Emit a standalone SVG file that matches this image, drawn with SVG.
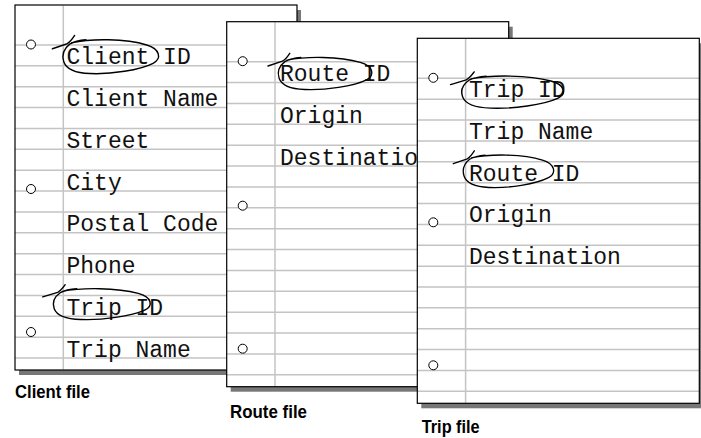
<svg xmlns="http://www.w3.org/2000/svg" xmlns:xlink="http://www.w3.org/1999/xlink" width="701" height="438" viewBox="0 0 701 438">
<style>
.shadow{fill:#777777}
.sheet{fill:#ffffff}
.edge{fill:none;stroke:#000;stroke-width:1.2}
.rule{stroke:#c4c4c4;stroke-width:1.5;fill:none}
.hole{fill:#fff;stroke:#000;stroke-width:1}
.field{font-family:"Liberation Mono","DejaVu Sans Mono",monospace;font-size:23px;fill:#111}
.mark{fill:none;stroke:#000;stroke-width:1.4;stroke-linecap:round;stroke-linejoin:round}
.label{font-family:"Liberation Sans Narrow","Liberation Sans",Arial,sans-serif;font-weight:bold;font-size:18px;fill:#000}
</style>
<defs>
<g id="page">
<rect class="shadow" x="4" y="5" width="282" height="365"/>
<rect class="sheet" x="0" y="0" width="282" height="365"/>
<path class="rule" d="M0,40H282M0,60.87H282M0,81.74H282M0,102.61H282M0,123.48H282M0,144.35H282M0,165.22H282M0,186.09H282M0,206.96H282M0,227.83H282M0,248.7H282M0,269.57H282M0,290.44H282M0,311.31H282M0,332.18H282M0,353.05H282M48.3,0.6V364.4"/>
<rect class="edge" x="0" y="0" width="282" height="365"/>
<circle class="hole" cx="16" cy="39.5" r="4.5"/>
<circle class="hole" cx="16" cy="184" r="4.5"/>
<circle class="hole" cx="16" cy="327" r="4.5"/>
</g>
<path id="loop" class="mark" d="M-9,9.5L6,4.6Q9.5,2.5 13.5,-3.5M10.5,3.6C30,-0.5 65,-0.5 86.5,5.8C100,9.5 102,19 93,23.6C80,30 50,34.5 29,33.5C15,33 5,29 2.5,22C0.5,16 2.5,9.5 8.5,5C13,2.5 19,1.2 25,0.8"/>
</defs>
<g id="client-file">
<use xlink:href="#page" x="15" y="5"/>
<text class="field" x="66.5" y="64.4">Client ID</text>
<text class="field" x="66.5" y="106.1">Client Name</text>
<text class="field" x="66.5" y="147.9">Street</text>
<text class="field" x="66.5" y="189.6">City</text>
<text class="field" x="66.5" y="231.3">Postal Code</text>
<text class="field" x="66.5" y="273.1">Phone</text>
<text class="field" x="66.5" y="314.8">Trip ID</text>
<text class="field" x="66.5" y="356.6">Trip Name</text>
<use xlink:href="#loop" transform="translate(61.3 39) scale(0.987 1.03)"/>
<use xlink:href="#loop" transform="translate(51.7 288) scale(1 0.94)"/>
<text class="label" x="15" y="398" textLength="75" lengthAdjust="spacingAndGlyphs">Client file</text>
</g>
<g id="route-file">
<use xlink:href="#page" x="226.7" y="21.7"/>
<text class="field" x="280" y="81.1">Route ID</text>
<text class="field" x="280" y="122.8">Origin</text>
<text class="field" x="280" y="164.6">Destination</text>
<use xlink:href="#loop" transform="translate(276.7 56.7) scale(0.966 0.98)"/>
<text class="label" x="230" y="418" textLength="77" lengthAdjust="spacingAndGlyphs">Route file</text>
</g>
<g id="trip-file">
<use xlink:href="#page" x="417.3" y="38.3"/>
<text class="field" x="469" y="97.1">Trip ID</text>
<text class="field" x="469" y="138.8">Trip Name</text>
<text class="field" x="469" y="180.5">Route ID</text>
<text class="field" x="469" y="222.3">Origin</text>
<text class="field" x="469" y="264">Destination</text>
<use xlink:href="#loop" transform="translate(460 75.3) scale(1.05 0.98)"/>
<use xlink:href="#loop" transform="translate(461.7 154.3) scale(0.933 0.99)"/>
<text class="label" x="421.7" y="433" textLength="58" lengthAdjust="spacingAndGlyphs">Trip file</text>
</g>
<g id="connectors"/>
</svg>
